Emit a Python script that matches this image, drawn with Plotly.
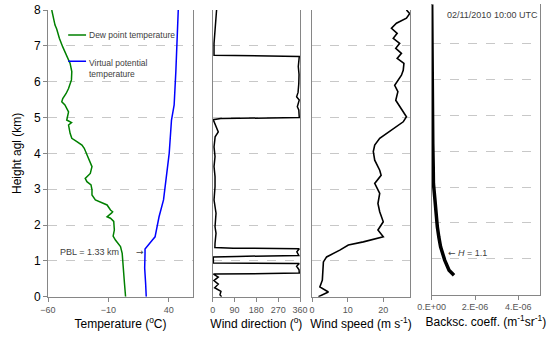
import plotly.graph_objects as go

# ---------------- data ----------------
# Panel 1: dew point temperature (degC) vs height (km)
dew_h = [8.0, 7.77, 7.58, 7.47, 7.21, 6.97, 6.74, 6.51, 6.28, 6.05, 5.81, 5.67, 5.53, 5.44,
         5.35, 5.16, 5.0, 4.93, 4.86, 4.79, 4.56, 4.42, 4.33, 4.23, 4.14, 4.0, 3.81, 3.63,
         3.44, 3.30, 3.21, 3.12, 2.98, 2.84, 2.70, 2.62, 2.56, 2.42, 2.37, 2.33, 2.23, 2.19,
         2.10, 1.86, 1.69, 1.58, 1.40, 1.21, 0.75, 0.37, 0.0]
dew_t = [-56.9, -55.6, -54.2, -52.8, -50.6, -47.8, -45.0, -41.7, -40.3, -40.6, -43.0, -45.0,
         -47.8, -48.6, -46.0, -43.0, -44.0, -44.5, -40.5, -43.0, -41.7, -40.3, -36.1, -31.9,
         -30.0, -28.3, -25.6, -23.6, -25.0, -29.2, -27.8, -24.4, -23.6, -23.6, -20.8, -15.3,
         -11.1, -8.3, -6.5, -7.5, -11.1, -8.3, -5.6, -5.1, -6.1, -4.2, 0.0, 1.4, 2.2, 3.3, 4.2]

# Panel 1: virtual potential temperature (degC) vs height (km)
vpt_h = [8.0, 7.35, 6.28, 5.35, 4.93, 4.0, 3.16, 2.70, 2.23, 1.67, 1.58, 1.40, 1.33, 1.21,
         0.8, 0.37, 0.0]
vpt_t = [47.8, 47.2, 45.8, 44.4, 42.2, 40.3, 37.5, 35.6, 31.9, 28.6, 26.4, 22.2, 20.3, 20.3,
         20.0, 20.8, 21.3]

# Panel 2: wind direction (deg) vs height (km)
wd_h = [8.0, 7.6, 7.35, 7.07, 6.74, 6.70, 6.42, 6.2, 5.95, 5.7, 5.58, 5.49, 5.30, 5.21, 5.0,
        4.97, 4.94, 4.74, 4.60, 4.46, 4.18, 3.91, 3.63, 3.35, 3.07, 2.70, 2.33, 1.95, 1.77,
        1.49, 1.37, 1.355, 1.34, 1.25, 1.15, 1.125, 1.11, 1.0, 0.94, 0.925, 0.85, 0.75, 0.66,
        0.645, 0.63, 0.55, 0.45, 0.35, 0.25, 0.15, 0.05, 0.0]
wd_d = [16, 12, 9.5, 5.5, 5.5, 357, 353, 356, 355, 352, 346, 357, 349, 355, 357,
        33, 2, 16, 23, 10, 5.5, 9.6, 5.5, 9.6, 9.6, 5.5, 13.7, 9.6, 13.7,
        9.6, 9, 85, 357, 347, 355, 100, 2, 3, 2, 357, 346, 356, 357,
        230, 3, 23, 5, 23, 8, 34, 30, 37]

# Panel 3: wind speed (m/s) vs height (km)
ws_h = [8.0, 7.9, 7.77, 7.63, 7.49, 7.35, 7.21, 7.07, 6.93, 6.79, 6.65, 6.51, 6.32, 6.18,
        5.9, 5.72, 5.48, 5.25, 5.02, 4.88, 4.65, 4.42, 4.23, 4.05, 3.81, 3.53, 3.39, 3.16,
        2.88, 2.60, 2.37, 2.09, 1.86, 1.67, 1.53, 1.44, 1.30, 1.11, 0.97, 0.74, 0.46, 0.27,
        0.13, 0.0]
ws_v = [26.5, 27.4, 26.5, 23.7, 22.3, 23.9, 22.8, 24.6, 23.5, 25.1, 23.9, 25.8, 25.6, 25.1,
        23.2, 24.1, 23.5, 25.1, 26.5, 25.6, 22.3, 19.0, 17.6, 17.2, 17.6, 19.0, 19.4, 17.6,
        19.0, 18.5, 19.0, 20.0, 18.5, 20.0, 14.4, 10.2, 7.8, 4.1, 3.2, 3.0, 2.9, 2.2,
        4.6, 1.8]

# Panel 4: backscatter coefficient (m-1 sr-1) vs height (km)
bs_h = [8.1, 6.0, 4.22, 3.57, 3.1, 2.64, 2.17, 1.89, 1.6, 1.33, 0.96, 0.68, 0.54]
bs_v = [0.0, 0.01e-6, 0.05e-6, 0.07e-6, 0.08e-6, 0.15e-6, 0.2e-6, 0.26e-6, 0.33e-6,
        0.41e-6, 0.6e-6, 0.8e-6, 1.03e-6]

height_ticks = [0, 1, 2, 3, 4, 5, 6, 7, 8]
grid_heights = [1, 2, 3, 4, 5, 6, 7]
temp_ticks = [-60, -10, 40]
wd_ticks = [0, 90, 180, 270, 360]
ws_ticks = [0, 10, 20]
bs_ticks = [0, 2e-6, 4e-6]
bs_ticktext = ["0.E+00", "2.E-06", "4.E-06"]

# ---------------- figure ----------------
W, H = 555, 340
FONT = "Liberation Sans, Arial, sans-serif"
ARROW_FONT = "DejaVu Sans"

def px_x(p):
    return p / W

def px_y(p):
    return 1 - p / H

fig = go.Figure()
fig.add_trace(go.Scatter(x=dew_t, y=dew_h, mode="lines", line=dict(color="#008000", width=1.5),
                         xaxis="x", yaxis="y", showlegend=False))
fig.add_trace(go.Scatter(x=vpt_t, y=vpt_h, mode="lines", line=dict(color="#0000ff", width=1.5),
                         xaxis="x", yaxis="y", showlegend=False))
fig.add_trace(go.Scatter(x=wd_d, y=wd_h, mode="lines", line=dict(color="#000000", width=1.5),
                         xaxis="x2", yaxis="y2", showlegend=False))
fig.add_trace(go.Scatter(x=ws_v, y=ws_h, mode="lines", line=dict(color="#000000", width=1.6),
                         xaxis="x3", yaxis="y3", showlegend=False))
fig.add_trace(go.Scatter(x=bs_v, y=bs_h, mode="lines", line=dict(color="#000000", width=3.5),
                         xaxis="x4", yaxis="y4", showlegend=False))

axis_line = "#868686"
grid_col = "#c8c8c8"
tick_font = dict(family=FONT, size=9, color="#555555")
title_font = dict(family=FONT, size=12, color="#000000")

def xaxis(dom, rng, tickvals, title, anchor, ticktext=None):
    d = dict(domain=dom, range=rng, tickvals=tickvals, showgrid=False, zeroline=False,
             anchor=anchor, automargin=False,
             showline=True, linecolor=axis_line, linewidth=1, ticks="outside", ticklen=4,
             tickcolor=axis_line, tickfont=tick_font,
             title=dict(text=title, font=title_font, standoff=6))
    if ticktext is not None:
        d["ticktext"] = ticktext
    return d

def yaxis(dom, rng, anchor, labels):
    d = dict(domain=dom, range=rng, anchor=anchor, zeroline=False, showline=True, mirror=True,
             automargin=False,
             linecolor=axis_line, linewidth=1, showgrid=False,
             tickvals=height_ticks,
             minor=dict(tickvals=grid_heights, showgrid=True, gridcolor=grid_col, griddash="dash",
                        gridwidth=1, ticks=""))
    if labels:
        d.update(ticks="outside", ticklen=4, tickcolor=axis_line,
                 tickfont=dict(family=FONT, size=12, color="#000000"),
                 title=dict(text="Height agl (km)", font=title_font, standoff=9))
    else:
        d.update(showticklabels=False, ticks="")
    return d

y_dom = [px_y(296.7), px_y(10)]
y4_dom = [px_y(294.5), px_y(4.3)]

fig.update_layout(
    width=W, height=H, margin=dict(l=0, r=0, t=0, b=0, autoexpand=False),
    paper_bgcolor="white", plot_bgcolor="white",
    font=dict(family=FONT),
    xaxis=xaxis([px_x(48), px_x(193)], [-60, 60], temp_ticks, "Temperature (<sup>o</sup>C)", "y"),
    yaxis=yaxis(y_dom, [0, 8], "x", True),
    xaxis2=xaxis([px_x(212.7), px_x(300)], [0, 360], wd_ticks, "Wind direction (<sup>o</sup>)", "y2"),
    yaxis2=yaxis(y_dom, [0, 8], "x2", False),
    xaxis3=xaxis([px_x(312), px_x(410)], [0, 27.5], ws_ticks, "Wind speed (m s<sup>-1</sup>)", "y3"),
    yaxis3=yaxis(y_dom, [0, 8], "x3", False),
    xaxis4=xaxis([px_x(431.7), px_x(540)], [0, 5e-6], bs_ticks,
                 "Backsc. coeff. (m<sup>-1</sup>sr<sup>-1</sup>)", "y4", bs_ticktext),
    yaxis4=yaxis(y4_dom, [0, 8.1], "x4", False),
)

# legend-like labels inside the first panel
fig.add_shape(type="line", xref="x", yref="y", x0=-43.3, x1=-28.5, y0=7.3, y1=7.3,
              line=dict(color="#008000", width=1.5))
fig.add_shape(type="line", xref="x", yref="y", x0=-43.3, x1=-28.5, y0=6.57, y1=6.57,
              line=dict(color="#0000ff", width=1.5))
ann_font = dict(family=FONT, size=8.5, color="#404040")
arrow_font = dict(family=ARROW_FONT, size=9, color="#404040")
fig.add_annotation(x=-28, y=7.3, xref="x", yref="y", text="Dew point temperature",
                   showarrow=False, xanchor="left", yanchor="middle", font=ann_font)
fig.add_annotation(x=-28, y=6.72, xref="x", yref="y", text="Virtual potential<br>temperature",
                   showarrow=False, xanchor="left", yanchor="top", align="left", font=ann_font)
fig.add_annotation(x=0, y=1.26, xref="x", yref="y", text="PBL = 1.33 km",
                   showarrow=False, xanchor="right", yanchor="middle",
                   font=dict(family=FONT, size=9, color="#404040"))
fig.add_annotation(x=11.0, y=1.24, xref="x", yref="y", text="\u2192",
                   showarrow=False, xanchor="left", yanchor="middle", font=arrow_font)
fig.add_annotation(x=0.66e-6, y=1.15, xref="x4", yref="y4", text="\u2190",
                   showarrow=False, xanchor="left", yanchor="middle", font=arrow_font)
fig.add_annotation(x=1.1e-6, y=1.15, xref="x4", yref="y4", text="<i>H</i> = 1.1",
                   showarrow=False, xanchor="left", yanchor="middle",
                   font=dict(family=FONT, size=9, color="#404040"))
fig.add_annotation(x=0.62e-6, y=px_y(15), xref="x4", yref="paper", text="02/11/2010 10:00 UTC",
                   showarrow=False, xanchor="left", yanchor="middle",
                   font=dict(family=FONT, size=9, color="#404040"))

fig.write_html("out.html")
